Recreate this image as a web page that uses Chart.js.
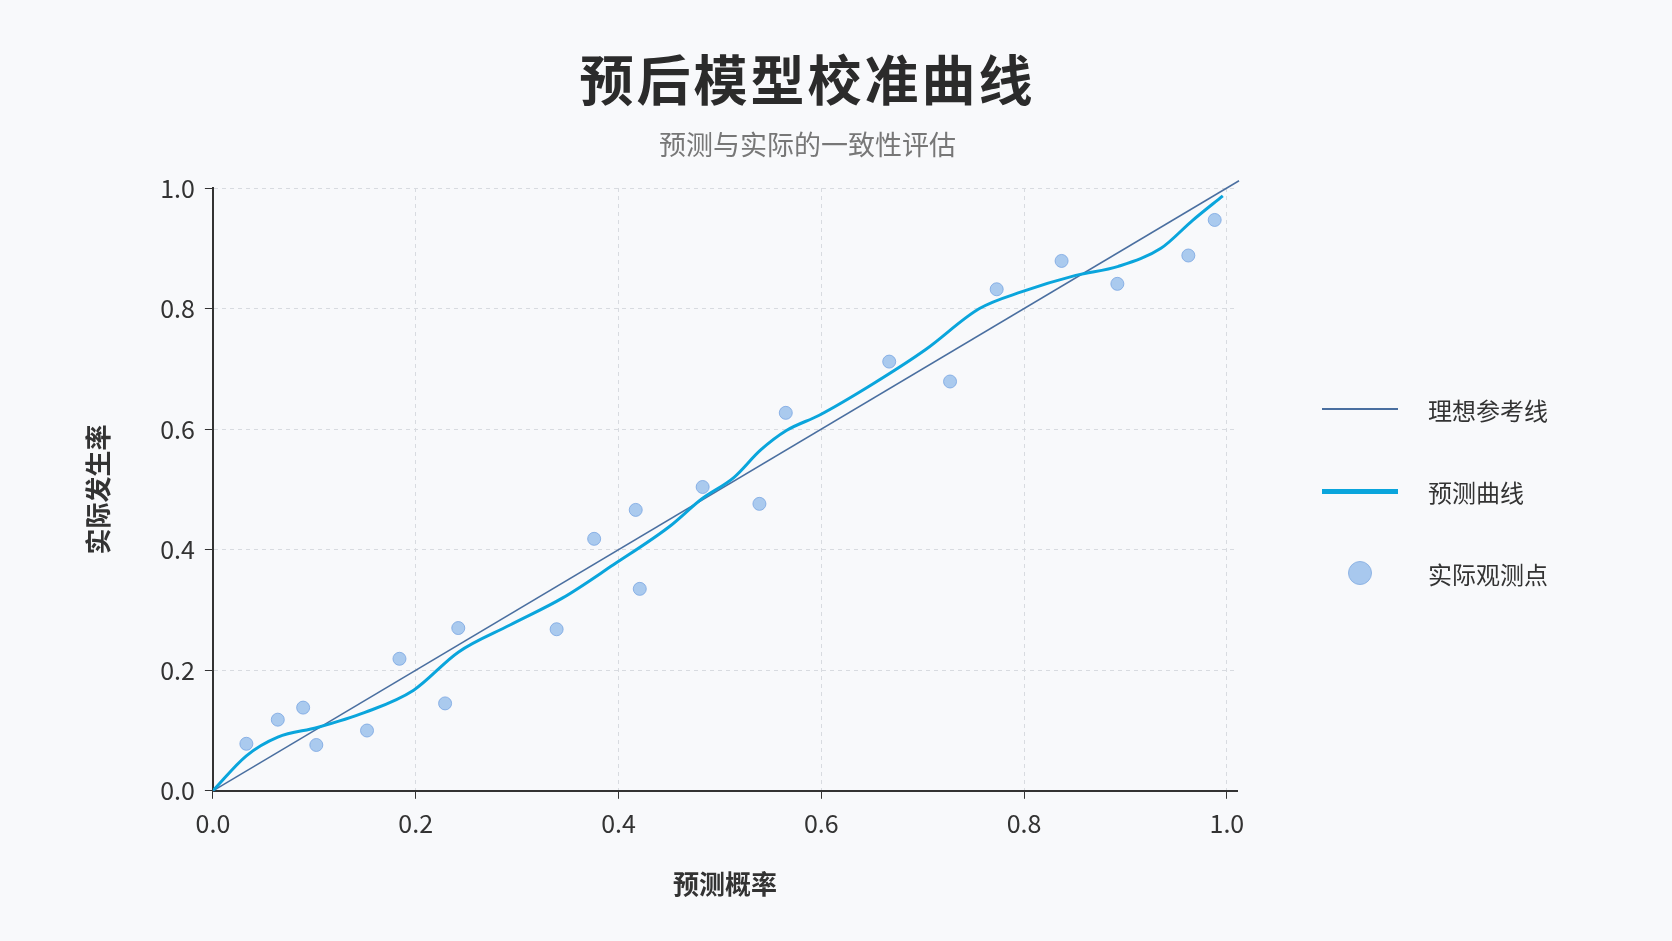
<!DOCTYPE html>
<html><head><meta charset="utf-8">
<script src="https://cdn.jsdelivr.net/npm/chart.js@4"></script>
<style>
html,body{margin:0;padding:0;background:#f8f9fb;font-family:"Noto Sans CJK SC","Noto Sans",sans-serif;}
#wrap{position:relative;width:1672px;height:941px;}
#legend{position:absolute;left:1322px;top:409px;}
.li{display:flex;align-items:center;height:82px;font-size:24px;color:#333;}
.sw{width:76px;margin-right:30px;display:flex;justify-content:center;align-items:center;}
#t{position:absolute;left:0;width:1615px;text-align:center;top:38px;font-size:54px;font-weight:bold;color:#2b2b2b;letter-spacing:3px;}
#st{position:absolute;left:0;width:1615px;text-align:center;top:124px;font-size:27px;color:#777;}
</style></head><body>
<div id="wrap"><canvas id="c" width="1672" height="941"></canvas>
<div id="t">预后模型校准曲线</div>
<div id="st">预测与实际的一致性评估</div>
<div id="legend">
<div class="li" style="margin-top:-41px"><div class="sw"><div style="width:76px;height:2px;background:#4a6fa0"></div></div>理想参考线</div>
<div class="li"><div class="sw"><div style="width:76px;height:5px;background:#0aa5dc"></div></div>预测曲线</div>
<div class="li"><div class="sw"><div style="width:22px;height:22px;border-radius:50%;background:#a8c8ee;border:1px solid #8fb4e4"></div></div>实际观测点</div>
</div></div>
<script>
const obsX=[0.033,0.064,0.089,0.102,0.152,0.184,0.229,0.242,0.339,0.376,0.417,0.421,0.483,0.539,0.565,0.667,0.727,0.773,0.837,0.892,0.962,0.988];
const obsY=[0.078,0.118,0.138,0.076,0.100,0.219,0.145,0.270,0.268,0.418,0.466,0.335,0.504,0.476,0.627,0.712,0.679,0.832,0.879,0.841,0.888,0.947];
const curveX=[0,0.033,0.064,0.103,0.15,0.198,0.242,0.293,0.345,0.395,0.45,0.482,0.514,0.54,0.566,0.598,0.65,0.703,0.756,0.798,0.851,0.893,0.935,0.966,0.996];
const curveY=[0,0.058,0.089,0.105,0.13,0.167,0.23,0.275,0.32,0.375,0.438,0.484,0.52,0.565,0.598,0.623,0.674,0.732,0.8,0.828,0.855,0.87,0.9,0.946,0.987];
const idealX=[0,1.012];
const toPts=(xs,ys)=>xs.map((x,i)=>({x,y:ys[i]}));
const F='"Noto Sans CJK SC","Noto Sans",sans-serif';
new Chart(document.getElementById('c'),{
 data:{datasets:[
  {type:'line',label:'理想参考线',data:toPts(idealX,idealX),borderColor:'#4a6fa0',borderWidth:1.5,pointRadius:0,clip:false,order:3},
  {type:'line',label:'预测曲线',data:toPts(curveX,curveY),borderColor:'#0aa5dc',borderWidth:3,pointRadius:0,tension:0.4,cubicInterpolationMode:'monotone',order:2},
  {type:'scatter',label:'实际观测点',data:toPts(obsX,obsY),backgroundColor:'rgba(150,190,235,0.8)',borderColor:'rgba(120,165,225,0.8)',borderWidth:1,pointRadius:6.5,order:1}
 ]},
 options:{responsive:false,animation:false,
  layout:{padding:{left:79,right:435,top:188,bottom:37}},
  plugins:{legend:{display:false},tooltip:{enabled:false}},
  scales:{
   x:{type:'linear',min:0,max:1.01,afterBuildTicks:a=>{a.ticks=[0,0.2,0.4,0.6,0.8,1].map(v=>({value:v}));},
    ticks:{callback:v=>v.toFixed(1),font:{family:F,size:25},color:'#333',padding:10},
    grid:{color:'#d8dbe0',drawTicks:true,tickLength:8,tickColor:'#333'},border:{color:'#333',width:2,dash:[4,4]},
    title:{display:true,text:'预测概率',font:{family:F,size:26,weight:'bold'},color:'#333',padding:{top:20}}},
   y:{type:'linear',min:0,max:1,ticks:{stepSize:0.2,callback:v=>v.toFixed(1),font:{family:F,size:25},color:'#333',padding:10},
    grid:{color:'#d8dbe0',tickLength:8,tickColor:'#333'},border:{color:'#333',width:2,dash:[4,4]},
    title:{display:true,text:'实际发生率',font:{family:F,size:26,weight:'bold'},color:'#333',padding:{bottom:36}}}
  }}
});
</script></body></html>
